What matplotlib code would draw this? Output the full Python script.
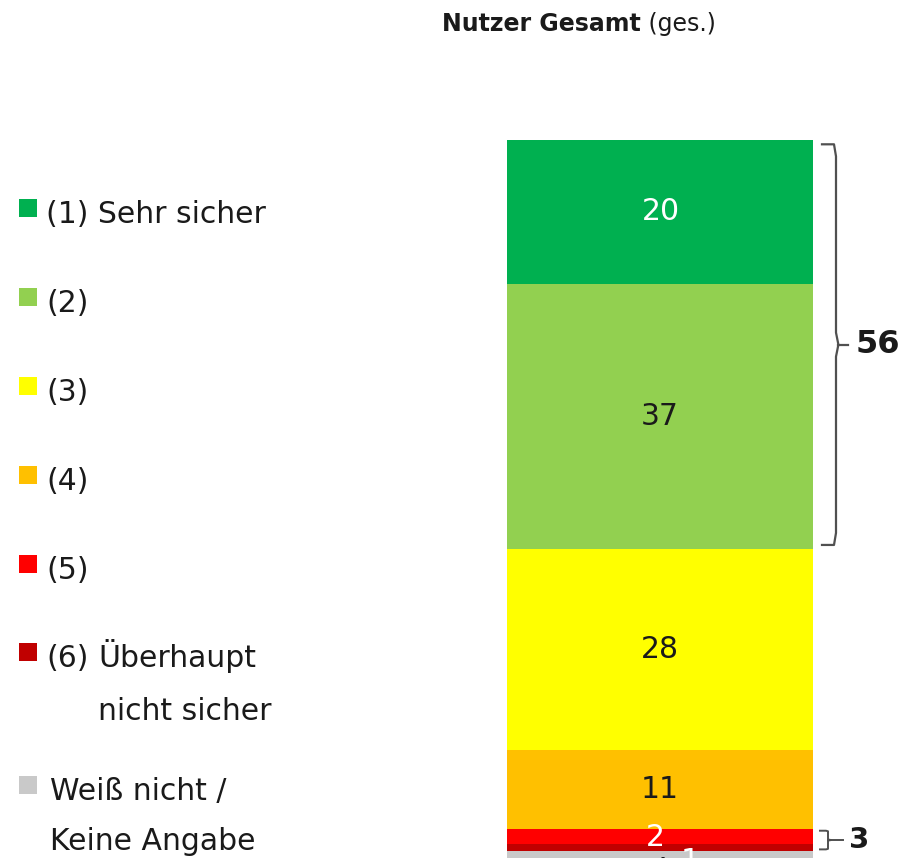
import matplotlib
matplotlib.use("Agg")
import matplotlib.pyplot as plt
import numpy as np

# Daten
categories = ["(1) Sehr sicher", "(2)", "(3)", "(4)", "(5)",
              "(6) Überhaupt\nnicht sicher", "Weiß nicht /\nKeine Angabe"]
values = [20, 37, 28, 11, 2, 1, 1]
value_labels = ["20", "37", "28", "11", "2", ",", "1"]
colors = ["#00B050", "#92D050", "#FFFF00", "#FFC000", "#FF0000", "#C00000", "#C9C9C9"]
label_colors = ["white", "#1a1a1a", "#1a1a1a", "#1a1a1a", "white", "#1a1a1a", "white"]
top2_label = "56"
bottom2_label = "3"
title_bold = "Nutzer Gesamt"
title_rest = " (ges.)"

plt.rcParams["font.family"] = ["DejaVu Sans"]

W, H = 903, 858
fig = plt.figure(figsize=(W / 100, H / 100), dpi=100)
ax = fig.add_axes([0, 0, 1, 1])
ax.set_xlim(0, W)
# y in Prozent: 0 bei Pixel 140, 100 bei Pixel 858
px_per_unit = (858 - 140) / 100
ax.set_ylim(100, -140 / px_per_unit)
ax.axis("off")


def py(p):
    # Pixelzeile -> Datenkoordinate
    return (p - 140) / px_per_unit


bar_x, bar_w = 660, 306
bottoms = np.concatenate([[0], np.cumsum(values)[:-1]])
ax.bar([bar_x] * len(values), values, bottom=bottoms, width=bar_w,
       color=colors, edgecolor="none")

# Werte im Balken
label_dx = [1, 0, 0, 0, -5, 2, 30]
label_dy = [0, 0, 0, 0, 0.2, 0.6, 1.0]
for i, (b, v, lab) in enumerate(zip(bottoms, values, value_labels)):
    ax.text(bar_x + label_dx[i], b + v / 2 + label_dy[i], lab,
            ha="center", va="center", fontsize=21.5, color=label_colors[i])

# Titel
tb = ax.text(442, py(31), title_bold, ha="left", va="baseline",
             fontsize=17, fontweight="bold", color="#1a1a1a")
fig.canvas.draw()
bb = tb.get_window_extent()
x_end = ax.transData.inverted().transform((bb.x1, bb.y0))[0]
ax.text(x_end, py(31), title_rest, ha="left", va="baseline",
        fontsize=17, color="#1a1a1a")


def brace(x, y0, y1, hook, tip, color="#505050", lw=1.6):
    ym = (y0 + y1) / 2
    r = (y1 - y0) * 0.03
    ax.plot([x - hook, x - 2, x, x, x + tip * 0.3, x, x, x - 2, x - hook],
            [y0, y0, y0 + r, ym - r, ym, ym + r, y1 - r, y1, y1],
            color=color, lw=lw, solid_joinstyle="round")
    return ym


# Klammer Top-2
top2_end = values[0] + values[1]
ym = brace(836, 0.6, top2_end - 0.6, 14, 8)
ax.plot([838, 848], [ym, ym], color="#505050", lw=1.6)
ax.text(856, ym, top2_label, ha="left", va="center",
        fontsize=23, fontweight="bold", color="#1a1a1a")

# Klammer Bottom-2
b2_start = sum(values[:4])
b2_end = b2_start + values[4] + values[5]
ym = brace(828, b2_start + 0.2, b2_end - 0.2, 8, 10, lw=1.4)
ax.plot([830, 843], [ym, ym], color="#505050", lw=1.4)
ax.text(849, ym, bottom2_label, ha="left", va="center",
        fontsize=21, fontweight="bold", color="#1a1a1a")

# Legende links (Grundlinien in Pixeln)
baselines = [223, 312, 401, 490, 579, 667, 800]
line_gap = [0, 0, 0, 0, 0, 53, 50]
fs = 21.5
for cat, col, bl, gap in zip(categories, colors, baselines, line_gap):
    ax.scatter([28], [py(bl - 15)], marker="s", s=170, color=col, edgecolors="none")
    if cat.startswith("(6)"):
        prefix, rest = cat.split(" ", 1)
        ax.text(46, py(bl), prefix, ha="left", va="baseline", fontsize=fs, color="#1a1a1a")
        for k, ln in enumerate(rest.split("\n")):
            ax.text(98, py(bl + k * gap), ln, ha="left", va="baseline",
                    fontsize=fs, color="#1a1a1a")
    elif "\n" in cat:
        for k, ln in enumerate(cat.split("\n")):
            ax.text(50, py(bl + k * gap), ln, ha="left", va="baseline",
                    fontsize=fs, color="#1a1a1a")
    else:
        ax.text(46, py(bl), cat, ha="left", va="baseline", fontsize=fs, color="#1a1a1a")

fig.savefig("out.png", dpi=100)
plt.close(fig)
